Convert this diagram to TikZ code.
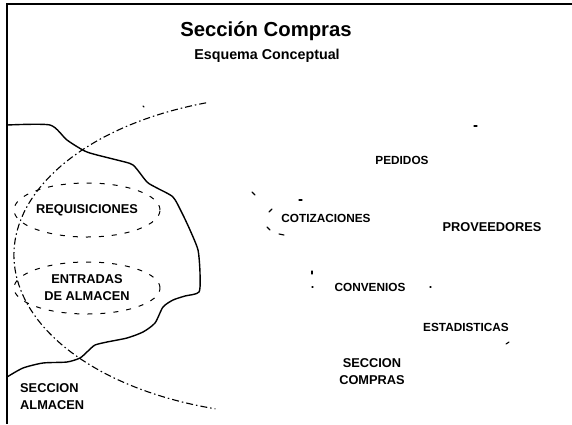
\documentclass[tikz,border=0pt]{standalone}
\usepackage{fontspec}
\setsansfont{Liberation Sans}
\usepackage{tikz}
\usetikzlibrary{positioning,shapes.geometric}

\tikzset{
  lbl/.style={font=\sffamily\bfseries\fontsize{12.8}{17}\selectfont, align=center, inner sep=0pt},
  smalllbl/.style={font=\sffamily\bfseries\fontsize{11.8}{16}\selectfont, align=center, inner sep=0pt},
  setbox/.style={ellipse, draw, line width=1pt, dash pattern=on 5pt off 8pt, inner sep=0pt},
  frag/.style={line width=1.1pt, line cap=round},
}

\begin{document}
\begin{tikzpicture}[x=1pt,y=1pt,yscale=-1,xscale=1]
\useasboundingbox (0,0) rectangle (572,424);

%Shape: Frame
\draw [line width=2pt] (572,4) -- (7,4) -- (7,424) ;

% Text Node
\node (titulo) at (266,31) [font=\sffamily\bfseries\fontsize{20.3}{24}\selectfont] {Sección Compras};
% Text Node
\node (subtitulo) at (267,56) [font=\sffamily\bfseries\fontsize{14.3}{17}\selectfont] {Esquema Conceptual};

%Shape: Region boundary
\draw [line width=1.4pt, line join=round] plot [smooth, tension=0.4] coordinates {
  (7,125) (50,125) (67,140) (87,152) (117,160) (133,165) (147,182) (157,188)
  (173,197) (182,213) (190,230) (198,250) (200,273) (199,292) (185,296) (173,300)
  (163,307) (155,323) (143,332) (127,338) (107,342) (95,345) (88,351) (80,358)
  (67,362) (43,363) (23,368) (7,377) };

%Shape: Big arc
\coordinate (centro) at (292,255);
\draw [line width=1.1pt, dash pattern=on 7pt off 3pt on 1.5pt off 3pt]
  ([shift={(-108:278 and 160)}]centro) arc [start angle=-108, end angle=-254, x radius=278, y radius=160] ;

%Shape: Ellipse
\node (requisiciones) at (87,210) [setbox, minimum width=146, minimum height=54] {};
\node at (requisiciones) [lbl] {REQUISICIONES};
%Shape: Ellipse
\node (entradas) at (87,288) [setbox, minimum width=146, minimum height=52] {};
\node at (entradas) [lbl] {ENTRADAS\\DE ALMACEN};

% Text Node
\node (pedidos) at (402,160) [smalllbl] {PEDIDOS};
% Text Node
\node (cotizaciones) at (326,218) [smalllbl] {COTIZACIONES};
% Text Node
\node (proveedores) at (492,227) [lbl] {PROVEEDORES};
% Text Node
\node (convenios) at (370,287) [smalllbl] {CONVENIOS};
% Text Node
\node (estadisticas) at (466,327) [smalllbl] {ESTADISTICAS};
% Text Node
\node (compras) at (372,372) [lbl] {SECCION\\COMPRAS};
% Text Node
\node (almacen) at (20,397) [lbl, anchor=west, align=left] {SECCION\\ALMACEN};

%Shape: stray fragments
\draw [frag] (143,106) -- (144,107) ;
\draw [frag] (252,192) -- (255,195) ;
\draw [frag] (299,200) -- (302,200) ;
\draw [frag] (269,212) -- (272,209) ;
\draw [frag] (267,227) -- (270,230) ;
\draw [frag] (279,234) -- (284,235) ;
\draw [frag] (312,271) -- (312,274) ;
\draw [frag] (312,287) -- (313,287) ;
\draw [frag] (430,287) -- (431,287) ;
\draw [frag] (474,126) -- (477,126) ;
\draw [frag] (506,344) -- (509,342) ;

\end{tikzpicture}
\end{document}
